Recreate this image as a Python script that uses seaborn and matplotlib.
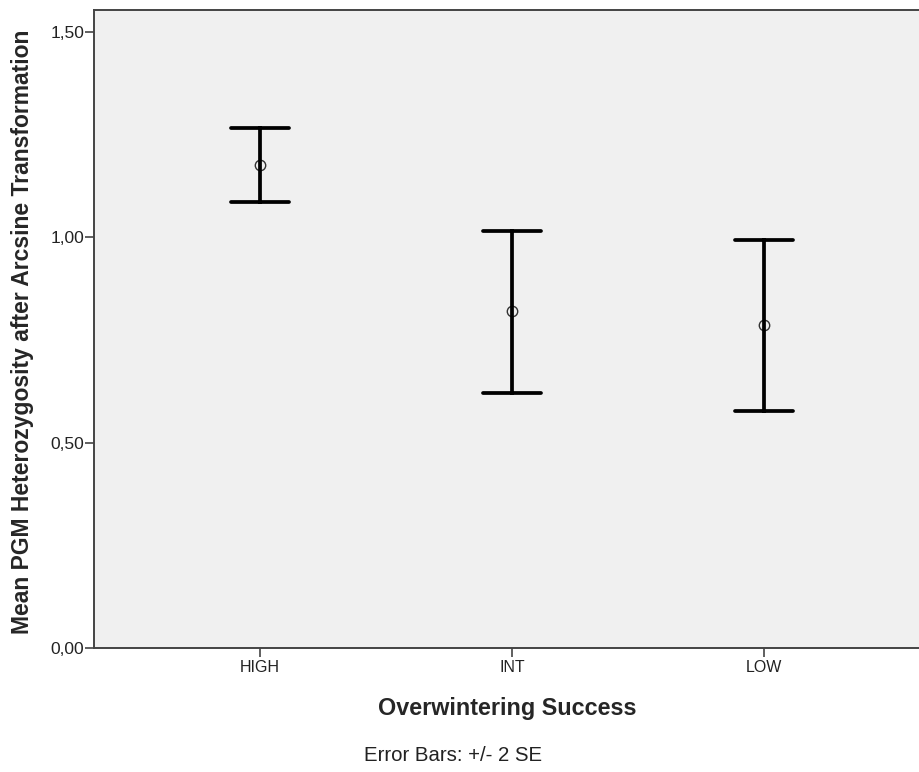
import pandas as pd
import matplotlib.pyplot as plt
import seaborn as sns

sns.set_style("white")
plt.rcParams['font.family'] = ['Liberation Sans', 'DejaVu Sans']

# groups and their means with +/- 2 SE limits
groups = ['HIGH', 'INT', 'LOW']
means = [1.176, 0.821, 0.786]
lower = [1.086, 0.621, 0.577]
upper = [1.266, 1.015, 0.993]
ytick_vals = [0.0, 0.5, 1.0, 1.5]
ytick_labels = ['0,00', '0,50', '1,00', '1,50']

# long table: lower, mean, upper per group -> median = mean, full range = error bar
rows = []
for g, lo, m, hi in zip(groups, lower, means, upper):
    for v in (lo, m, hi):
        rows.append({'group': g, 'value': v})
df = pd.DataFrame(rows)

fig = plt.figure(figsize=(9.2, 7.72), dpi=100)
ax = fig.add_axes([0.102, 0.1606, 0.898, 0.8264])
ax.set_facecolor('#f0f0f0')

sns.pointplot(data=df, x='group', y='value', order=groups,
              estimator='median', errorbar=('pi', 100),
              capsize=0.23, linestyle='none', marker='o', markersize=7.5,
              markerfacecolor='none', markeredgewidth=1.0,
              markeredgecolor='#333333',
              color='black', err_kws={'linewidth': 2.7}, ax=ax)

ax.set_xlim(-0.66, 2.62)
ax.set_ylim(0, 1.553)
ax.set_yticks(ytick_vals)
ax.set_yticklabels(ytick_labels)

for s in ['left', 'bottom', 'top']:
    ax.spines[s].set_color('#444444')
    ax.spines[s].set_linewidth(1.4)
ax.spines['right'].set_visible(False)

ax.tick_params(axis='both', direction='out', length=6.5, width=1.2,
               color='#444444', labelcolor='#222222',
               left=True, bottom=True)
ax.tick_params(axis='y', pad=0.5, labelsize=12.5)
ax.tick_params(axis='x', pad=2, labelsize=11.5)

ax.set_xlabel('Overwintering Success', fontsize=16.8, fontweight='bold')
ax.xaxis.set_label_coords(0.5, -0.076)
ax.set_ylabel('Mean PGM Heterozygosity after Arcsine Transformation',
              fontsize=16.5, fontweight='bold')
ax.yaxis.set_label_coords(-0.072, 0.495)

fig.text(0.493, 0.022, 'Error Bars: +/- 2 SE', ha='center', va='center',
         fontsize=14.7, color='#222222')

fig.savefig('out.png', dpi=100)
